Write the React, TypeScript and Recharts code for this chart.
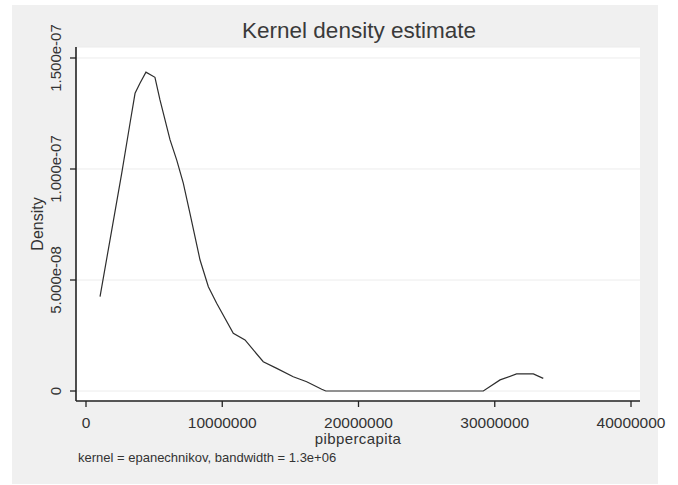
import React from "react";
import {
  LineChart,
  Line,
  XAxis,
  YAxis,
  CartesianGrid,
  Customized,
} from "recharts";

// values (x in units of 1,000,000, density in units of 1e-8)
const pibMillions = [
  1.03, 1.76, 2.62, 3.23, 3.6, 3.96, 4.4, 5.06, 5.43, 6.17, 6.66, 7.14, 7.63,
  8.37, 8.98, 9.59, 10.81, 11.67, 12.28, 13.01, 14.0, 15.21, 16.2, 17.3, 17.6,
  29.16, 30.39, 31.6, 32.83, 33.56,
];
const densityE8 = [
  4.25, 6.8, 9.8, 12.06, 13.41, 13.86, 14.36, 14.13, 13.11, 11.31, 10.4, 9.36,
  8.0, 5.9, 4.7, 3.95, 2.6, 2.3, 1.85, 1.32, 1.02, 0.64, 0.42, 0.08, 0, 0, 0.5,
  0.77, 0.77, 0.57,
];
const xTicks = [0, 10000000, 20000000, 30000000, 40000000];
const yTicks = [0, 5e-8, 1e-7, 1.5e-7];

const data = pibMillions.map((x, i) => ({
  pib: x * 1e6,
  density: densityE8[i] * 1e-8,
}));

const FONT = "'Liberation Sans', Arial, sans-serif";
const INK = "#333333";

function fmtY(v: number) {
  if (v === 0) return "0";
  const [m, e] = v.toExponential(3).split("e");
  const sign = e.startsWith("-") ? "-" : "+";
  const digits = e.replace(/[+-]/, "").padStart(2, "0");
  return `${m}e${sign}${digits}`;
}

const YTick = (props: any) => {
  const { x, y, payload } = props;
  return (
    <text
      transform={`translate(${x},${y}) rotate(-90)`}
      textAnchor="middle"
      fontSize={15}
      fill={INK}
      fontFamily={FONT}
    >
      {fmtY(payload.value)}
    </text>
  );
};

const Titles = () => (
  <g fontFamily={FONT} fill={INK}>
    <text x={359} y={38} textAnchor="middle" fontSize={22.5} fill="#3a3a3a">
      Kernel density estimate
    </text>
    <text x={78} y={462} fontSize={13}>
      kernel = epanechnikov, bandwidth = 1.3e+06
    </text>
  </g>
);

export default function App() {
  return (
    <div
      style={{
        position: "absolute",
        left: 0,
        top: 0,
        width: 678,
        height: 485,
        background: "#ffffff",
      }}
    >
      <div
        style={{
          position: "absolute",
          left: 12,
          top: 5,
          width: 646,
          height: 479,
          background: "#f0f0f0",
        }}
      />
      <div style={{ position: "absolute", left: 0, top: 0 }}>
        <LineChart
          width={678}
          height={485}
          data={data}
          margin={{ top: 47, right: 38, bottom: 0, left: 0 }}
        >
          <CartesianGrid
            vertical={false}
            fill="#ffffff"
            stroke="#ececec"
            strokeWidth={1}
          />
          <XAxis
            dataKey="pib"
            type="number"
            domain={[-734000, 40660000]}
            ticks={xTicks}
            allowDataOverflow
            height={84}
            tickSize={6}
            tickMargin={9.5}
            interval={0}
            axisLine={{ stroke: "#222", strokeWidth: 1.6 }}
            tickLine={{ stroke: "#222", strokeWidth: 1.3 }}
            tick={{ fontSize: 15.5, fill: INK, fontFamily: FONT }}
            label={({ viewBox }: any) => (
              <text
                x={viewBox.x + viewBox.width / 2}
                y={viewBox.y + 42.5}
                textAnchor="middle"
                fontSize={15}
                letterSpacing={0.4}
                fill={INK}
                fontFamily={FONT}
              >
                pibpercapita
              </text>
            )}
          />
          <YAxis
            type="number"
            domain={[-4.5e-9, 1.5495e-7]}
            ticks={yTicks}
            allowDataOverflow
            width={76}
            tickSize={6}
            tickMargin={9}
            interval={0}
            axisLine={{ stroke: "#222", strokeWidth: 1.6 }}
            tickLine={{ stroke: "#222", strokeWidth: 1.3 }}
            tick={<YTick />}
            label={({ viewBox }: any) => (
              <text
                transform={`translate(${viewBox.x + 43},${viewBox.y + viewBox.height / 2}) rotate(-90)`}
                textAnchor="middle"
                fontSize={16}
                fill={INK}
                fontFamily={FONT}
              >
                Density
              </text>
            )}
          />
          <Line
            type="linear"
            dataKey="density"
            stroke="#2e2e2e"
            strokeWidth={1.2}
            dot={false}
            isAnimationActive={false}
          />
          <Customized component={Titles} />
        </LineChart>
      </div>
    </div>
  );
}
